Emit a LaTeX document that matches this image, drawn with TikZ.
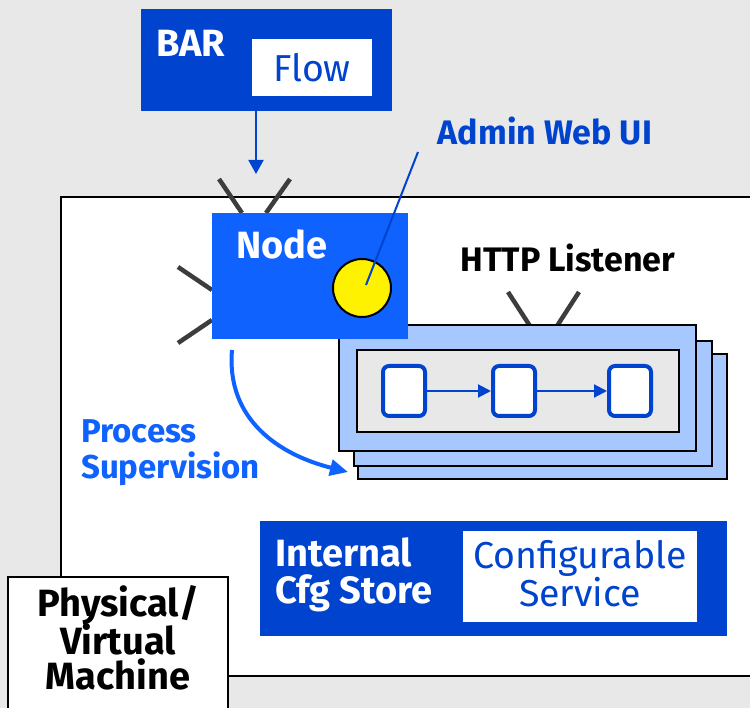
\documentclass[tikz,border=0pt]{standalone}
\usepackage{fontspec}
\setmainfont{Fira Sans}
\usetikzlibrary{arrows.meta}
\definecolor{bgray}{HTML}{E8E8E8}
\definecolor{dblue}{HTML}{0043CE}
\definecolor{nblue}{HTML}{0F62FE}
\definecolor{lblue}{HTML}{A6C8FF}
\definecolor{agray}{HTML}{3D3D3D}
\tikzset{
  rect/.style={inner sep=0pt, outer sep=0pt, anchor=north west},
  antenna/.style={draw=agray, line width=4.5pt},
  stackbox/.style={rect, draw=black, fill=lblue, line width=2pt},
  stepsq/.style={draw=dblue, fill=white, line width=4pt, rounded corners=6pt, minimum width=42pt, minimum height=50pt, inner sep=0pt},
  flowarrow/.style={draw=dblue, line width=2pt, -{Triangle[length=13pt,width=13pt]}},
  lbl/.style={inner sep=0pt, font=\fontsize{34}{37}\selectfont\bfseries, align=left},
  biglbl/.style={inner sep=0pt, font=\fontsize{38}{37}\selectfont\bfseries, align=left},
  reglbl/.style={inner sep=0pt, font=\fontsize{37.5}{37}\selectfont, align=center},
}
\begin{document}
\begin{tikzpicture}[x=1pt,y=-1pt]
\useasboundingbox (0,0) rectangle (750,708);
\fill[bgray] (0,0) rectangle (750,708);
\clip (0,0) rectangle (750,708);
% machine box
\node[rect, draw=black, fill=white, line width=2pt, minimum width=700pt, minimum height=479pt] (vm) at (61,197) {};
% BAR
\node[rect, fill=dblue, minimum width=251pt, minimum height=102pt] (bar) at (141,9) {};
\node[rect, fill=white, minimum width=120pt, minimum height=57pt] (flowbox) at (252,39) {};
\node[biglbl, text=white, anchor=base west] (bart) at (156,57) {BAR};
\node[reglbl, text=dblue] (flowt) at (flowbox.center) {Flow};
% antennae for Node
\draw[antenna] (219,179) -- (242,213);
\draw[antenna] (290,179) -- (266,213);
\draw[antenna] (178,267) -- (212,290);
\draw[antenna] (178,343) -- (212,320);
% listener antennae
\draw[antenna] (508,292) -- (530,326);
\draw[antenna] (579,292) -- (557,326);
% BAR -> Node arrow
\coordinate (barin) at (256,174);
\draw[draw=dblue, line width=2pt, -{Triangle[length=14pt,width=15pt]}] (256,111) -- (barin);
% listener stack
\node[stackbox, minimum width=369pt, minimum height=125pt] (l3) at (358,354) {};
\node[stackbox, minimum width=358pt, minimum height=125pt] (l2) at (354,341) {};
\node[stackbox, minimum width=357pt, minimum height=126pt] (l1) at (339,325) {};
\node[rect, draw=black, fill=bgray, line width=2pt, minimum width=322pt, minimum height=82pt] (lin) at (357,350) {};
\node[stepsq] (s1) at (404,391) {};
\node[stepsq] (s2) at (514,391) {};
\node[stepsq] (s3) at (630,391) {};
\draw[flowarrow] (s1.east) -- (s2.west);
\draw[flowarrow] (s2.east) -- (s3.west);
\node[lbl, text=black, anchor=base] (http) at (568,272) {HTTP Listener};
% Node
\node[rect, fill=nblue, minimum width=196pt, minimum height=126pt] (node) at (212,213) {};
\node[biglbl, text=white, anchor=base west] (nodet) at (236,259) {Node};
\node[circle, draw=black, fill=yellow, line width=2pt, minimum size=58pt, inner sep=0pt] (ui) at (362,288) {};
% Admin Web UI
\node[lbl, text=dblue, anchor=base] (admin) at (545,145) {Admin Web UI};
\coordinate (adminend) at (418,152);
\draw[dblue, line width=2pt] (366,285) -- (adminend);
% Process supervision
\coordinate (ps0) at (232,350);
\coordinate (ps1) at (348,472);
\draw[nblue, line width=4pt, -{Triangle[length=18pt,width=16pt]}] (ps0) .. controls (226,420) and (280,455) .. (ps1);
\node[lbl, text=nblue, anchor=north west, font=\fontsize{33}{36}\selectfont\bfseries] (pst) at (81,419) {Process\\Supervision};
% Config store
\node[rect, fill=dblue, minimum width=467pt, minimum height=115pt] (cfg) at (260,521) {};
\node[rect, fill=white, minimum width=234pt, minimum height=91pt] (cfgsvc) at (463,531) {};
\node[biglbl, text=white, anchor=north west] (cfgt) at (275,537) {Internal\\Cfg Store};
\node[reglbl, text=dblue] (svct) at (580,574) {Configurable\\Service};
% physical box
\node[rect, draw=black, fill=white, line width=2pt, minimum width=220pt, minimum height=140pt] (pm) at (8,577) {};
\node[biglbl, align=center, text=black, anchor=north] (pmt) at (118,585) {Physical/\\[-2pt]Virtual\\[-2pt]Machine};
\end{tikzpicture}
\end{document}
